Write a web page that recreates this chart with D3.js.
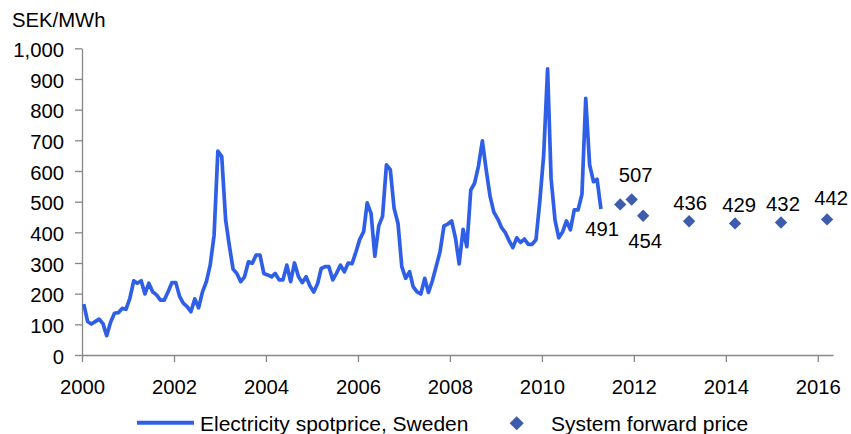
<!DOCTYPE html>
<html>
<head>
<meta charset="utf-8">
<script src="https://cdn.jsdelivr.net/npm/d3@7"></script>
<style>
  html, body { margin: 0; padding: 0; background: #fff; }
  svg { display: block; font-family: "Liberation Sans", Arial, sans-serif; }
</style>
</head>
<body>
<svg id="chart" width="851" height="434"></svg>
<script>
// Monthly electricity spot price, Sweden (SEK/MWh), January to December of each year
const spot2000 = [166, 109, 101, 109, 117, 103, 63, 107, 136, 138, 152, 149];
const spot2001 = [185, 242, 234, 242, 199, 234, 206, 196, 179, 179, 206, 236];
const spot2002 = [236, 190, 169, 158, 141, 183, 154, 206, 239, 293, 390, 665];
const spot2003 = [647, 440, 360, 280, 266, 239, 255, 304, 299, 326, 326, 266];
const spot2004 = [261, 255, 266, 245, 245, 293, 239, 300, 256, 236, 255, 226];
const spot2005 = [205, 234, 282, 288, 288, 245, 267, 293, 271, 300, 298, 335];
const spot2006 = [377, 402, 496, 462, 322, 421, 452, 620, 604, 478, 429, 288];
const spot2007 = [250, 272, 223, 206, 199, 250, 204, 242, 290, 337, 421, 427];
const spot2008 = [437, 380, 297, 410, 353, 538, 560, 616, 698, 605, 518, 466];
const spot2009 = [444, 415, 400, 373, 350, 382, 367, 378, 361, 361, 376, 500];
const spot2010 = [652, 933, 575, 440, 382, 402, 437, 408, 473, 473, 524, 837];
const spot2011 = [620, 565, 573, 476];
const spotYears = [2000, 2001, 2002, 2003, 2004, 2005, 2006, 2007, 2008, 2009, 2010, 2011];

// System forward prices (quarterly, then yearly contracts)
const forwardDates = ["2011-09-15", "2011-12-15", "2012-03-15", "2013-03-15", "2014-03-15", "2015-03-15", "2016-03-15"];
const forwardValues = [491, 507, 454, 436, 429, 432, 442];

// Axis ticks
const yTicks = [0, 100, 200, 300, 400, 500, 600, 700, 800, 900, 1000];
const xTickYears = [2000, 2002, 2004, 2006, 2008, 2010, 2012, 2014, 2016];

const unitLabel = "SEK/MWh";
const seriesNames = ["Electricity spotprice, Sweden", "System forward price"];

// ---- drawing ----
const lineColor = "#2f5fe6";
const diamondColor = "#3d5cac";
const axisColor = "#878787";
const fontSize = 20.3;
const legendFontSize = 21;

const svg = d3.select("#chart");
const plotLeft = 82, plotRight = 833, plotTop = 48.3, plotBottom = 355;

const x = d3.scaleTime()
  .domain([new Date(2000, 0, 1), new Date(2016, 4, 1)])
  .range([plotLeft, plotRight]);
const y = d3.scaleLinear().domain([0, 1000]).range([plotBottom, plotTop]);

const spotSeries = [spot2000, spot2001, spot2002, spot2003, spot2004, spot2005,
  spot2006, spot2007, spot2008, spot2009, spot2010, spot2011]
  .flatMap((vals, yi) => vals.map((v, mi) => ({ date: new Date(spotYears[yi], mi, 15), value: v })));

const parseDay = d3.timeParse("%Y-%m-%d");
const forwardSeries = forwardDates.map((d, i) => ({ date: parseDay(d), value: forwardValues[i] }));

// Y axis
const yAxis = svg.append("g")
  .attr("transform", `translate(${plotLeft},0)`)
  .call(d3.axisLeft(y).tickValues(yTicks).tickFormat(d3.format(",")).tickSize(7).tickPadding(11).tickSizeOuter(0));

// X axis
const xAxis = svg.append("g")
  .attr("transform", `translate(0,${plotBottom})`)
  .call(d3.axisBottom(x).tickValues(xTickYears.map(yr => new Date(yr, 0, 1)))
    .tickFormat(d3.timeFormat("%Y")).tickSize(7).tickPadding(18).tickSizeOuter(0));

[yAxis, xAxis].forEach(g => {
  g.selectAll("path.domain").attr("stroke", axisColor).attr("stroke-width", 1.3);
  g.selectAll(".tick line").attr("stroke", axisColor).attr("stroke-width", 1.3);
  g.selectAll(".tick text")
    .attr("fill", "#000")
    .style("font-family", '"Liberation Sans", Arial, sans-serif')
    .style("font-size", fontSize + "px");
});
yAxis.selectAll(".tick text").attr("dy", "0.4em");

// Unit label
svg.append("text")
  .attr("x", 12).attr("y", 26.5)
  .style("font-size", fontSize + "px")
  .text(unitLabel);

// Spot price line
const line = d3.line().x(d => x(d.date)).y(d => y(d.value));
svg.append("path")
  .datum(spotSeries)
  .attr("fill", "none")
  .attr("stroke", lineColor)
  .attr("stroke-width", 3.7)
  .attr("stroke-linejoin", "round")
  .attr("d", line);

// Forward price diamonds
const diamond = d3.symbol(d3.symbolSquare, 76);
svg.append("g").selectAll("path")
  .data(forwardSeries)
  .join("path")
  .attr("d", diamond)
  .attr("fill", diamondColor)
  .attr("transform", d => `translate(${x(d.date)},${y(d.value)}) rotate(45)`);

// Value labels (offset of text centre/baseline from each diamond)
const labelOffsets = [[-18, 32], [4, -18], [2, 32], [1, -11], [4, -11], [2, -12], [4, -14]];
svg.append("g").selectAll("text")
  .data(forwardSeries)
  .join("text")
  .attr("x", (d, i) => x(d.date) + labelOffsets[i][0])
  .attr("y", (d, i) => y(d.value) + labelOffsets[i][1])
  .attr("text-anchor", "middle")
  .style("font-size", fontSize + "px")
  .text(d => d.value);

// Legend
const legend = svg.append("g");
legend.append("line")
  .attr("x1", 137).attr("x2", 194).attr("y1", 422.7).attr("y2", 422.7)
  .attr("stroke", lineColor).attr("stroke-width", 4);
legend.append("text")
  .attr("x", 200).attr("y", 431)
  .style("font-size", legendFontSize + "px")
  .text(seriesNames[0]);
legend.append("path")
  .attr("d", d3.symbol(d3.symbolSquare, 100))
  .attr("fill", diamondColor)
  .attr("transform", "translate(516.7,423.3) rotate(45)");
legend.append("text")
  .attr("x", 551).attr("y", 431)
  .style("font-size", legendFontSize + "px")
  .text(seriesNames[1]);
</script>
</body>
</html>
